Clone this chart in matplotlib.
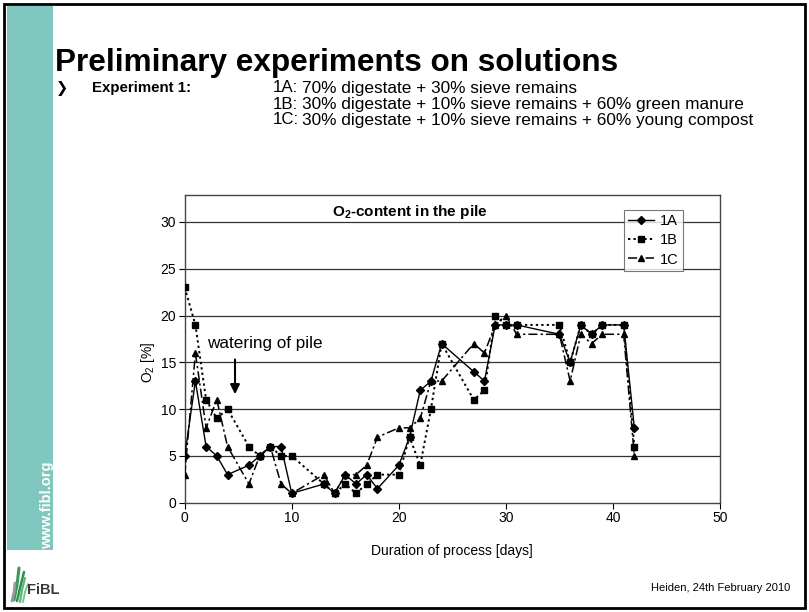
import matplotlib
matplotlib.use("Agg")
import matplotlib.pyplot as plt
from matplotlib.patches import Rectangle
from matplotlib.lines import Line2D

plt.rcParams['font.family'] = ['Liberation Sans', 'DejaVu Sans']
plt.rcParams['mathtext.fontset'] = 'custom'
plt.rcParams['mathtext.rm'] = 'Liberation Sans'
plt.rcParams['mathtext.bf'] = 'Liberation Sans:bold'

# ---------------- data ----------------
days = [0, 1, 2, 3, 4, 6, 7, 8, 9, 10, 13, 14, 15, 16, 17, 18, 20, 21, 22, 23, 24,
        27, 28, 29, 30, 31, 35, 36, 37, 38, 39, 41, 42]
o2_1A = [5, 13, 6, 5, 3, 4, 5, 6, 6, 1, 2, 1, 3, 2, 3, 1.5, 4, 7, 12, 13, 17,
         14, 13, 19, 19, 19, 18, 15, 19, 18, 19, 19, 8]
o2_1B = [23, 19, 11, 9, 10, 6, 5, 6, 5, 5, 2, 1, 2, 1, 2, 3, 3, 7, 4, 10, 17,
         11, 12, 20, 19, 19, 19, 15, 19, 18, 19, 19, 6]
o2_1C = [3, 16, 8, 11, 6, 2, 5, 6, 2, 1, 3, 1, 3, 3, 4, 7, 8, 8, 9, 13, 13,
         17, 16, 19, 20, 18, 18, 13, 18, 17, 18, 18, 5]
series_names = ["1A", "1B", "1C"]
x_ticks = [0, 10, 20, 30, 40, 50]
y_ticks = [0, 5, 10, 15, 20, 25, 30]

W, H = 809, 612
fig = plt.figure(figsize=(W / 100, H / 100), dpi=100)


def fx(x):
    return x / W


def fy(y):
    return 1 - y / H


# ---------------- slide decoration ----------------
teal = "#80c7bf"
fig.patches.append(Rectangle((fx(7), fy(550)), fx(53) - fx(7), fy(6) - fy(550),
                             transform=fig.transFigure, facecolor=teal,
                             edgecolor='none', zorder=0))
fig.patches.append(Rectangle((fx(4), fy(608)), fx(805) - fx(4), fy(4) - fy(608),
                             transform=fig.transFigure, facecolor='none',
                             edgecolor='black', lw=2.0, zorder=5))
fig.text(fx(47), fy(549), "www.fibl.org", rotation=90, color='white',
         fontsize=10.5, fontweight='bold', ha='center', va='bottom')

fig.text(fx(55), fy(63), "Preliminary experiments on solutions",
         fontsize=22.7, fontweight='bold', ha='left', va='center')
fig.text(fx(56), fy(88), "\u276f", fontsize=10.5, fontweight='bold',
         ha='left', va='center', family=['DejaVu Sans'])
fig.text(fx(92), fy(88), "Experiment 1:", fontsize=10.8, fontweight='bold',
         ha='left', va='center')
exp_labels = ["1A:", "1B:", "1C:"]
exp_texts = ["70% digestate + 30% sieve remains",
             "30% digestate + 10% sieve remains + 60% green manure",
             "30% digestate + 10% sieve remains + 60% young compost"]
for i, (lab, txt) in enumerate(zip(exp_labels, exp_texts)):
    yy = 88 + 16 * i
    fig.text(fx(273), fy(yy), lab, fontsize=12.2, ha='left', va='center')
    fig.text(fx(302), fy(yy), txt, fontsize=12.4, ha='left', va='center')

fig.text(fx(790), fy(588), "Heiden, 24th February 2010", fontsize=8,
         ha='right', va='center')

# FiBL logo
logo_lines = [
    ([14, 17, 19], [600, 585, 568], "#3a9a5c", 2.2),
    ([17, 20, 24], [601, 588, 572], "#2f8f50", 1.8),
    ([20, 22, 25], [602, 590, 578], "#5cb87a", 1.6),
    ([12, 14, 15], [601, 592, 583], "#9a9a9a", 2.0),
    ([23, 25, 28], [602, 592, 584], "#7cc48e", 1.4),
]
for xs, ys, c, lw in logo_lines:
    fig.lines.append(Line2D([fx(v) for v in xs], [fy(v) for v in ys],
                            transform=fig.transFigure, color=c, lw=lw,
                            solid_capstyle='round'))
fig.text(fx(27), fy(590), "FiBL", fontsize=10.5, fontweight='bold',
         color='#3a3a3a', ha='left', va='center')

# ---------------- chart ----------------
ax_left, ax_right = 184.7, 720.0
ax_top, ax_bottom = 195.0, 502.7
ax = fig.add_axes([fx(ax_left), fy(ax_bottom), (ax_right - ax_left) / W,
                   (ax_bottom - ax_top) / H])
ymax = (ax_bottom - ax_top) / ((ax_bottom - 222.0) / 30.0)
ax.set_xlim(0, 50)
ax.set_ylim(0, ymax)
ax.set_xticks(x_ticks)
ax.set_yticks(y_ticks)
ax.tick_params(direction='out', length=4, width=0.8, labelsize=10, pad=2,
               colors='black')
for yv in y_ticks[1:]:
    ax.axhline(yv, color='#333333', lw=0.9, zorder=1)
for s in ax.spines.values():
    s.set_color('#444444')
    s.set_linewidth(1.0)

ax.plot(days, o2_1A, color='black', lw=1.0, ls='-', marker='D', ms=4,
        label=series_names[0], zorder=3)
ax.plot(days, o2_1B, color='black', lw=1.4, ls=(0, (1.2, 1.6)), marker='s',
        ms=4.5, label=series_names[1], zorder=3)
ax.plot(days, o2_1C, color='black', lw=1.1, ls=(0, (6, 2, 1.5, 2)), marker='^',
        ms=5, label=series_names[2], zorder=3)

ax.set_xlabel("Duration of process [days]", fontsize=10)
ax.xaxis.set_label_coords(0.5, (ax_bottom - 551) / (ax_bottom - ax_top))
ax.xaxis.label.set_va('center')
ax.set_ylabel("O$_2$ [%]", fontsize=10)
ax.yaxis.set_label_coords((148 - ax_left) / (ax_right - ax_left),
                          (ax_bottom - 362) / (ax_bottom - ax_top))
ax.yaxis.label.set_va('center')

ax.text(0.42, (ax_bottom - 212) / (ax_bottom - ax_top),
        r"O$_\mathbf{2}$-content in the pile", transform=ax.transAxes,
        fontsize=11, fontweight='bold', ha='center', va='center')

ax.annotate("", xy=(4.7, 11.3), xytext=(4.7, 15.6),
            arrowprops=dict(arrowstyle='-|>', color='black', lw=1.5,
                            mutation_scale=14))
ax.text(2.1, 17.0, "watering of pile", fontsize=12.3, ha='left', va='center')

leg = ax.legend(loc='upper right',
                bbox_to_anchor=((683 - ax_left) / (ax_right - ax_left),
                                (ax_bottom - 210) / (ax_bottom - ax_top)),
                fontsize=10.5, frameon=True, fancybox=False, handlelength=1.8,
                handletextpad=0.4, borderpad=0.3, labelspacing=0.35,
                borderaxespad=0)
leg.get_frame().set_edgecolor('#555555')
leg.get_frame().set_linewidth(0.8)

fig.savefig("out.png", dpi=100)
